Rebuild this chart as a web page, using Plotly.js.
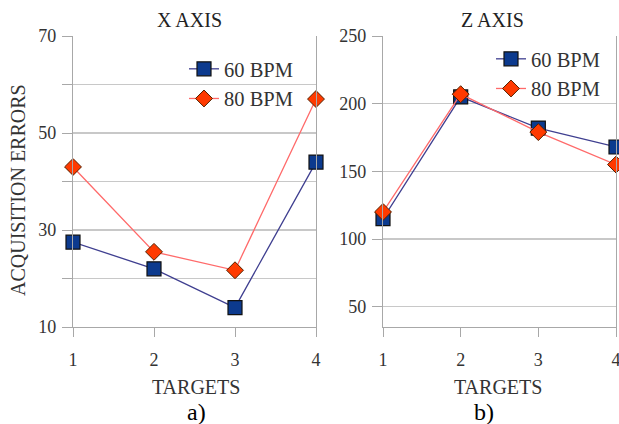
<!DOCTYPE html>
<html><head><meta charset="utf-8">
<script src="https://cdn.plot.ly/plotly-3.0.1.min.js"></script>
<style>html,body{margin:0;padding:0;background:#fff}#c{width:619px;height:424px}</style>
</head><body><div id="c"></div>
<script>
const targets = [1, 2, 3, 4];
const xAxis60 = [27.5, 22, 14, 44];
const xAxis80 = [43, 25.5, 21.7, 57];
const zAxis60 = [115, 205, 182, 168];
const zAxis80 = [120, 207, 179, 155];
const seriesNames = ['60 BPM', '80 BPM'];
const panelTitles = ['X AXIS', 'Z AXIS'];
const panelLabels = ['a)', 'b)'];
const xTitle = 'TARGETS';
const yTitle = 'ACQUISITION ERRORS';
const leftTickVals = [10, 20, 30, 40, 50, 60, 70];
const leftTickText = ['10', '', '30', '', '50', '', '70'];
const rightTickVals = [50, 100, 150, 200, 250];

const serif = "'Liberation Serif'";
const txt = '#333';
const sq = {symbol: 'square', size: 14, color: '#0c3a8e', line: {color: '#111', width: 1.2}};
const dm = {symbol: 'diamond', size: 13, color: '#ff3a00', line: {color: '#552200', width: 1}};
const l60 = {color: '#3f3f90', width: 1.3};
const l80 = {color: '#ff6a6a', width: 1.3};

const traces = [
  {x: targets, y: xAxis60, name: seriesNames[0], mode: 'lines+markers', marker: sq, line: l60, xaxis: 'x', yaxis: 'y', cliponaxis: false, legend: 'legend'},
  {x: targets, y: xAxis80, name: seriesNames[1], mode: 'lines+markers', marker: dm, line: l80, xaxis: 'x', yaxis: 'y', cliponaxis: false, legend: 'legend'},
  {x: targets, y: zAxis60, name: seriesNames[0], mode: 'lines+markers', marker: sq, line: l60, xaxis: 'x2', yaxis: 'y2', cliponaxis: false, legend: 'legend2'},
  {x: targets, y: zAxis80, name: seriesNames[1], mode: 'lines+markers', marker: dm, line: l80, xaxis: 'x2', yaxis: 'y2', cliponaxis: false, legend: 'legend2'}
];

const W = 619, H = 424;
const yDom = [1 - 327 / H, 1 - 36 / H];
const xCommon = {
  range: [1, 4], tickvals: targets, ticktext: targets.map(String),
  showline: true, linecolor: '#a8a8a8', linewidth: 1.2,
  ticks: 'outside', ticklen: 9, tickcolor: '#a8a8a8', ticklabelstandoff: 7,
  ticklabeloverflow: 'allow',
  showgrid: false,
  zeroline: false, tickfont: {family: serif, size: 18, color: txt}, fixedrange: true
};
const yCommon = {
  showline: true, mirror: true, linecolor: '#a8a8a8', linewidth: 1.2,
  ticks: 'outside', ticklen: 10, tickcolor: '#a8a8a8', ticklabelstandoff: 2,
  showgrid: true, gridcolor: '#c8c8c8', gridwidth: 1.2,
  zeroline: false, tickfont: {family: serif, size: 18, color: txt}, fixedrange: true
};

function ann(text, x, y, size, color, extra) {
  return Object.assign({text: text, x: x / W, y: 1 - y / H, xref: 'paper', yref: 'paper', xanchor: 'center', yanchor: 'middle',
    showarrow: false, font: {family: serif, size: size, color: color}}, extra || {});
}

const legFont = {family: serif, size: 20.5, color: txt};
const layout = {
  width: W, height: H, margin: {l: 0, r: 0, t: 0, b: 0},
  paper_bgcolor: '#fff', plot_bgcolor: '#fff',
  font: {family: serif, color: txt},
  xaxis: Object.assign({}, xCommon, {domain: [73 / W, 316 / W], anchor: 'y'}),
  yaxis: Object.assign({}, yCommon, {domain: yDom, anchor: 'x', range: [10, 70], tickvals: leftTickVals, ticktext: leftTickText}),
  xaxis2: Object.assign({}, xCommon, {domain: [383 / W, 616 / W], anchor: 'y2'}),
  yaxis2: Object.assign({}, yCommon, {domain: yDom, anchor: 'x2', range: [35, 250], tickvals: rightTickVals}),
  legend: {x: 184 / W, y: 1 - 49 / H, xanchor: 'left', yanchor: 'top', bgcolor: 'rgba(0,0,0,0)',
    font: legFont, tracegroupgap: 0, itemwidth: 30},
  legend2: {x: 491 / W, y: 1 - 39 / H, xanchor: 'left', yanchor: 'top', bgcolor: 'rgba(0,0,0,0)',
    font: legFont, tracegroupgap: 0, itemwidth: 30},
  annotations: [
    ann(panelTitles[0], 189, 20, 20, '#222'),
    ann(panelTitles[1], 493, 20, 20, '#222'),
    ann(xTitle, 196, 387, 20, txt),
    ann(xTitle, 498, 387, 20, txt),
    ann(yTitle, 18, 190, 20, txt, {textangle: -90}),
    ann(panelLabels[0], 196, 412, 24, '#000'),
    ann(panelLabels[1], 484, 412, 24, '#000')
  ]
};

Plotly.newPlot('c', traces, layout, {displayModeBar: false, staticPlot: true});
</script>
</body></html>
